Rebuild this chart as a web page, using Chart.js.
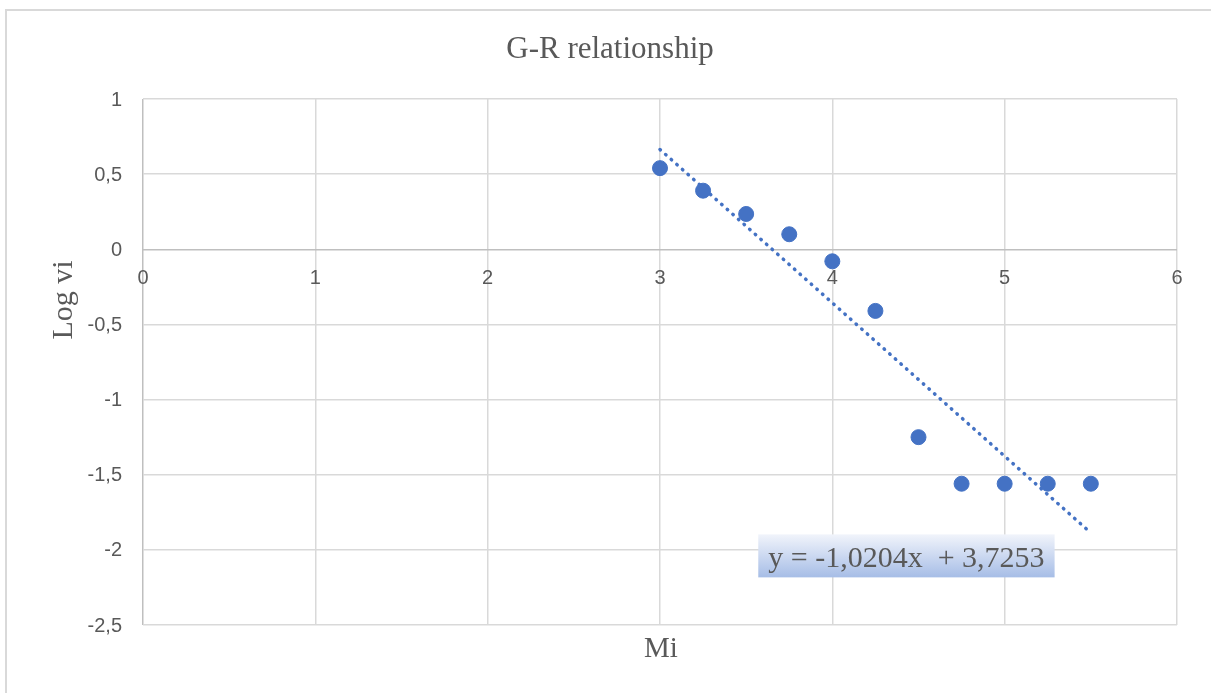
<!DOCTYPE html>
<html>
<head>
<meta charset="utf-8">
<script src="https://cdn.jsdelivr.net/npm/chart.js@4.4.1/dist/chart.umd.min.js"></script>
<style>
    html, body { margin: 0; padding: 0; background: #fff; }
    #wrap { position: relative; width: 1211px; height: 693px; overflow: hidden; }
    #frame { position: absolute; left: 5px; top: 9px; width: 1300px; height: 800px;
             border-top: 2px solid #d9d9d9; border-left: 2px solid #d9d9d9; }
    canvas { position: absolute; left: 0; top: 0; }
</style>
</head>
<body>
<div id="wrap">
    <div id="frame"></div>
    <canvas id="grChart" width="1211" height="693"></canvas>
</div>
<script>
// data
const mi = [3, 3.25, 3.5, 3.75, 4, 4.25, 4.5, 4.75, 5, 5.25, 5.5];
const logVi = [0.54, 0.39, 0.235, 0.10, -0.08, -0.41, -1.25, -1.56, -1.56, -1.56, -1.56];

// linear trendline end points
const trendX = [3, 5.5];
const trendY = [0.664, -1.887];

const xTicks = [0, 1, 2, 3, 4, 5, 6];
const yTicks = [1, 0.5, 0, -0.5, -1, -1.5, -2, -2.5];

const chartTitle = 'G-R relationship';
const xTitle = 'Mi';
const yTitle = 'Log vi';
const equationText = 'y = -1,0204x  + 3,7253';
const equationPos = { x: 4.43, y: -2.04 };

const textColor = '#595959';
const serif = '"Liberation Serif", "Times New Roman", serif';
const sans = '"Liberation Sans", Arial, sans-serif';

// texte, ticks et équation
const excelLook = {
    id: 'excelLook',
    afterDraw(chart) {
        const ctx = chart.ctx;
        const xs = chart.scales.x;
        const ys = chart.scales.y;
        const area = chart.chartArea;
        ctx.save();
        ctx.fillStyle = textColor;

        // y tick labels
        ctx.font = '20px ' + sans;
        ctx.textAlign = 'right';
        ctx.textBaseline = 'middle';
        yTicks.forEach(v => {
            ctx.fillText(String(v).replace('.', ','), area.left - 21, ys.getPixelForValue(v) + 1);
        });

        // x tick labels along the zero line
        ctx.textAlign = 'center';
        const y0 = ys.getPixelForValue(0);
        xTicks.forEach(v => {
            ctx.fillText(String(v), xs.getPixelForValue(v), y0 + 29);
        });

        // titles
        ctx.textBaseline = 'alphabetic';
        ctx.font = '31px ' + serif;
        ctx.fillText(chartTitle, 610, 58);
        ctx.font = '29px ' + serif;
        ctx.fillText(xTitle, 661, 657);
        ctx.save();
        ctx.translate(72, 300);
        ctx.rotate(-Math.PI / 2);
        ctx.font = '30px ' + serif;
        ctx.fillText(yTitle, 0, 0);
        ctx.restore();

        // trendline equation box
        ctx.font = '30px ' + serif;
        const cx = xs.getPixelForValue(equationPos.x);
        const cy = ys.getPixelForValue(equationPos.y);
        const w = ctx.measureText(equationText).width + 20;
        const h = 43;
        const grad = ctx.createLinearGradient(0, cy - h / 2, 0, cy + h / 2);
        grad.addColorStop(0, '#f1f4fb');
        grad.addColorStop(1, '#a6bde6');
        ctx.fillStyle = grad;
        ctx.fillRect(cx - w / 2, cy - h / 2, w, h);
        ctx.fillStyle = textColor;
        ctx.fillText(equationText, cx, cy + 11);
        ctx.restore();
    }
};

const gridColor = c => (c.tick && c.tick.value === 0) ? '#bfbfbf' : '#d9d9d9';

new Chart(document.getElementById('grChart').getContext('2d'), {
    type: 'scatter',
    data: {
        datasets: [
            {
                label: 'Log vi',
                data: mi.map((x, i) => ({ x: x, y: logVi[i] })),
                backgroundColor: '#4472c4',
                borderColor: '#4472c4',
                pointRadius: 7.5,
                pointHoverRadius: 7.5,
                order: 1
            },
            {
                label: 'Linear',
                type: 'line',
                data: trendX.map((x, i) => ({ x: x, y: trendY[i] })),
                borderColor: '#4472c4',
                borderWidth: 3.5,
                borderDash: [0.5, 7],
                borderCapStyle: 'round',
                pointRadius: 0,
                fill: false,
                order: 2
            }
        ]
    },
    options: {
        responsive: false,
        animation: false,
        layout: { padding: { left: 143, right: 34, top: 99, bottom: 68 } },
        plugins: {
            legend: { display: false },
            title: { display: false },
            tooltip: { enabled: false }
        },
        scales: {
            x: {
                type: 'linear',
                min: 0,
                max: 6,
                ticks: { display: false, stepSize: 1 },
                grid: { color: gridColor, lineWidth: 1.5, drawTicks: false },
                border: { display: false }
            },
            y: {
                type: 'linear',
                min: -2.5,
                max: 1,
                ticks: { display: false, stepSize: 0.5 },
                grid: { color: gridColor, lineWidth: 1.5, drawTicks: false },
                border: { display: false }
            }
        }
    },
    plugins: [excelLook]
});
</script>
</body>
</html>
